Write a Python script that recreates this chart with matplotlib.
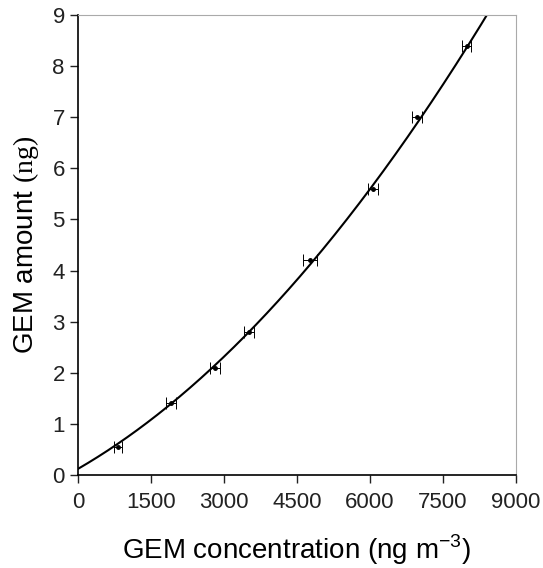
import numpy as np
import matplotlib
matplotlib.use('Agg')
import matplotlib.pyplot as plt

# measured points
conc = [820, 1910, 2810, 3510, 4770, 6060, 6960, 7990]
amount = [0.55, 1.40, 2.10, 2.80, 4.20, 5.60, 7.00, 8.40]
conc_err = [90, 110, 100, 100, 150, 110, 100, 90]

# quadratic fit curve (c0 + c1*x + c2*x^2)
fit_coef = [0.12, 5.51e-4, 6.02e-8]

xticks = [0, 1500, 3000, 4500, 6000, 7500, 9000]
yticks = [0, 1, 2, 3, 4, 5, 6, 7, 8, 9]

plt.rcParams['font.family'] = ['Liberation Sans', 'DejaVu Sans']
plt.rcParams['mathtext.fontset'] = 'custom'
plt.rcParams['mathtext.rm'] = 'Liberation Serif'
plt.rcParams['mathtext.sf'] = 'Liberation Sans'

fig = plt.figure(figsize=(5.43, 5.68), dpi=100)
ax = fig.add_axes([0.1436, 0.1637, 0.8067, 0.81])

xf = np.linspace(0, 9000, 400)
yf = fit_coef[0] + fit_coef[1]*xf + fit_coef[2]*xf**2
ax.plot(xf, yf, color='black', lw=1.5)

ax.errorbar(conc, amount, xerr=conc_err, fmt='o', ms=2.5,
            color='black', ecolor='black', elinewidth=0.7, capsize=4, capthick=0.7)

ax.set_xlim(0, 9000)
ax.set_ylim(0, 9)
ax.set_xticks(xticks)
ax.set_yticks(yticks)
ax.tick_params(direction='out', length=6, width=1, labelsize=16, colors='#222222')
ax.tick_params(axis='x', pad=6)

for s in ['top', 'right']:
    ax.spines[s].set_color('#aaaaaa')
for s in ['left', 'bottom']:
    ax.spines[s].set_linewidth(1.2)

ax.set_xlabel(r'GEM concentration (ng m$^{\mathsf{-3}}$)', fontsize=20, labelpad=14)
ax.set_ylabel(r'GEM amount $\mathrm{(ng)}$', fontsize=20, labelpad=8)

fig.savefig('out.png', dpi=100)
